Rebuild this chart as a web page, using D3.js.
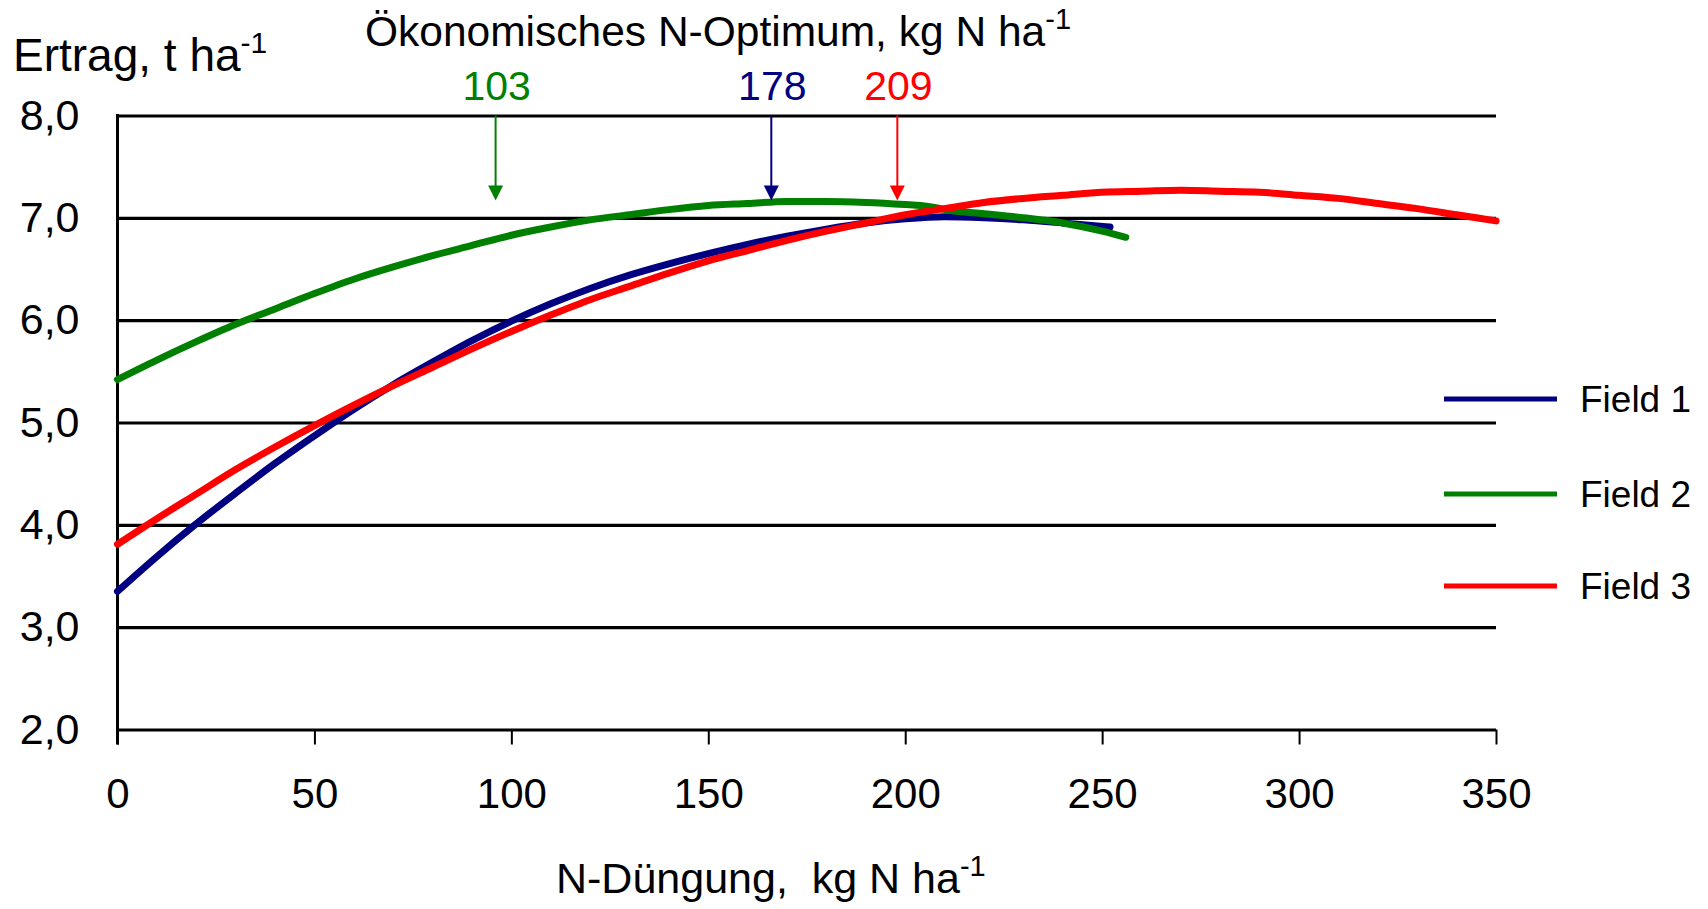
<!DOCTYPE html>
<html>
<head>
<meta charset="utf-8">
<script src="https://cdn.jsdelivr.net/npm/d3@7"></script>
<style>
  body { margin: 0; background: #fff; }
  svg { display: block; font-family: "Liberation Sans", Arial, sans-serif; }
</style>
</head>
<body>
<div class="chart"></div>
<script>
// ---- data ----
const field1X = [0, 10, 20, 30, 40, 50, 60, 70, 80, 90, 100, 110, 120, 130, 140, 150, 160, 170, 180, 190, 200, 210, 220, 230, 240, 252]
const field1Y = [3.35, 3.69, 4.01, 4.31, 4.60, 4.87, 5.13, 5.37, 5.59, 5.80, 5.99, 6.16, 6.31, 6.44, 6.55, 6.65, 6.74, 6.82, 6.89, 6.95, 6.99, 7.01, 7.00, 6.98, 6.95, 6.91]

const field2X = [0, 10, 20, 30, 40, 50, 60, 70, 80, 90, 100, 110, 120, 130, 140, 150, 160, 170, 180, 190, 200, 204, 212, 220, 230, 240, 250, 256]
const field2Y = [5.42, 5.61, 5.79, 5.96, 6.11, 6.26, 6.40, 6.52, 6.63, 6.73, 6.83, 6.91, 6.98, 7.03, 7.08, 7.12, 7.14, 7.16, 7.16, 7.15, 7.13, 7.12, 7.07, 7.04, 7.00, 6.95, 6.87, 6.81]

const field3X = [0, 10, 20, 30, 40, 50, 60, 70, 80, 90, 100, 110, 120, 130, 140, 150, 160, 170, 180, 190, 200, 210, 220, 230, 240, 250, 260, 270, 280, 290, 300, 310, 320, 330, 340, 350]
const field3Y = [3.81, 4.06, 4.30, 4.54, 4.76, 4.97, 5.17, 5.36, 5.54, 5.72, 5.89, 6.05, 6.20, 6.33, 6.46, 6.58, 6.68, 6.78, 6.87, 6.95, 7.03, 7.09, 7.15, 7.19, 7.22, 7.25, 7.26, 7.27, 7.26, 7.25, 7.22, 7.19, 7.14, 7.09, 7.03, 6.97]

const seriesNames = ["Field 1", "Field 2", "Field 3"]
const seriesColors = ["#000080", "#008000", "#ff0000"]

const xTicks = [0, 50, 100, 150, 200, 250, 300, 350]
const yTicks = [2, 3, 4, 5, 6, 7, 8]

// economic N optimum: label and where the arrow was drawn
const optimumLabels = ["103", "178", "209"]
const optimumArrowX = [96, 166, 198]
const optimumColors = ["#008000", "#000080", "#ff0000"]

// ---- layout ----
const W = 1708, H = 909
const margin = ({top: 115.5, left: 117.5, right: 212, bottom: 179.5})
const width = W - margin.left - margin.right,
      height = H - margin.top - margin.bottom

const svg = d3.select(".chart").append("svg")
    .attr("width", W)
    .attr("height", H)

const g = svg.append("g")
    .attr("transform", `translate(${margin.left},${margin.top})`)

const x = d3.scaleLinear().domain([0, 350]).range([0, width])
const y = d3.scaleLinear().domain([2, 8]).range([height, 0])

const fmtY = d => d.toFixed(1).replace(".", ",")

// gridlines + y labels
const yAxis = d3.axisLeft(y)
    .tickValues(yTicks)
    .tickSize(-width)
    .tickSizeOuter(0)
    .tickPadding(38)
    .tickFormat(fmtY)

g.append("g")
    .attr("class", "yAxis")
    .call(yAxis)
    .call(s => s.select(".domain").remove())
    .call(s => s.selectAll(".tick line").attr("stroke", "#000").attr("stroke-width", 3.2))
    .call(s => s.selectAll(".tick text").attr("font-size", 43).attr("fill", "#000")
        .attr("font-family", "Liberation Sans, Arial, sans-serif"))

// x axis ticks + labels
const xAxis = d3.axisBottom(x)
    .tickValues(xTicks)
    .tickSize(15)
    .tickSizeOuter(0)
    .tickPadding(34)
    .tickFormat(d3.format("d"))

g.append("g")
    .attr("class", "xAxis")
    .attr("transform", `translate(0,${height})`)
    .call(xAxis)
    .call(s => s.select(".domain").remove())
    .call(s => s.selectAll(".tick line").attr("stroke", "#000").attr("stroke-width", 2))
    .call(s => s.selectAll(".tick text").attr("font-size", 42).attr("fill", "#000")
        .attr("font-family", "Liberation Sans, Arial, sans-serif"))

// y axis line (runs down to the x tick length)
g.append("line")
    .attr("x1", 0).attr("x2", 0)
    .attr("y1", y(8) - 1.5).attr("y2", height + 15)
    .attr("stroke", "#000")
    .attr("stroke-width", 3)

// ---- series ----
const series = [
    {name: seriesNames[0], color: seriesColors[0], pts: field1X.map((v, i) => [v, field1Y[i]])},
    {name: seriesNames[1], color: seriesColors[1], pts: field2X.map((v, i) => [v, field2Y[i]])},
    {name: seriesNames[2], color: seriesColors[2], pts: field3X.map((v, i) => [v, field3Y[i]])}
]

const line = d3.line()
    .x(d => x(d[0]))
    .y(d => y(d[1]))
    .curve(d3.curveMonotoneX)

g.selectAll(".series")
    .data(series)
    .join("path")
    .attr("class", "series")
    .attr("d", d => line(d.pts))
    .attr("fill", "none")
    .attr("stroke", d => d.color)
    .attr("stroke-width", 7)
    .attr("stroke-linecap", "round")

// ---- optimum arrows ----
optimumArrowX.forEach((v, i) => {
    const ax = x(v)
    const tip = y(7.17)
    g.append("line")
        .attr("x1", ax).attr("x2", ax)
        .attr("y1", y(8)).attr("y2", tip - 14)
        .attr("stroke", optimumColors[i])
        .attr("stroke-width", 2)
    g.append("path")
        .attr("d", `M${ax - 7.5},${tip - 15}L${ax + 7.5},${tip - 15}L${ax},${tip}Z`)
        .attr("fill", optimumColors[i])
    svg.append("text")
        .attr("x", margin.left + ax + 1)
        .attr("y", 100)
        .attr("text-anchor", "middle")
        .attr("font-size", 41)
        .attr("fill", optimumColors[i])
        .text(optimumLabels[i])
})

// ---- legend ----
const legend = svg.append("g")
    .attr("transform", "translate(1444,0)")

const legendY = [399, 494, 586]

legend.selectAll("line")
    .data(series)
    .join("line")
    .attr("x1", 0).attr("x2", 113)
    .attr("y1", (d, i) => legendY[i]).attr("y2", (d, i) => legendY[i])
    .attr("stroke", d => d.color)
    .attr("stroke-width", 5)

legend.selectAll("text")
    .data(series)
    .join("text")
    .attr("x", 136)
    .attr("y", (d, i) => legendY[i] + 13)
    .attr("font-size", 37)
    .attr("fill", "#000")
    .text(d => d.name)

// ---- titles ----
const yTitle = svg.append("text")
    .attr("x", 13)
    .attr("y", 71)
    .attr("font-size", 46)
    .attr("fill", "#000")
yTitle.append("tspan").text("Ertrag, t ha")
yTitle.append("tspan").attr("font-size", 30).attr("dy", -18).text("-1")

const topTitle = svg.append("text")
    .attr("x", 365)
    .attr("y", 46)
    .attr("font-size", 42.5)
    .attr("fill", "#000")
topTitle.append("tspan").text("Ökonomisches N-Optimum, kg N ha")
topTitle.append("tspan").attr("font-size", 29).attr("dy", -17).text("-1")

const xTitle = svg.append("text")
    .attr("x", 556)
    .attr("y", 893)
    .attr("font-size", 43)
    .attr("fill", "#000")
xTitle.append("tspan").text("N-Düngung,\u00a0 kg N ha")
xTitle.append("tspan").attr("font-size", 29).attr("dy", -17).text("-1")
</script>
</body>
</html>
